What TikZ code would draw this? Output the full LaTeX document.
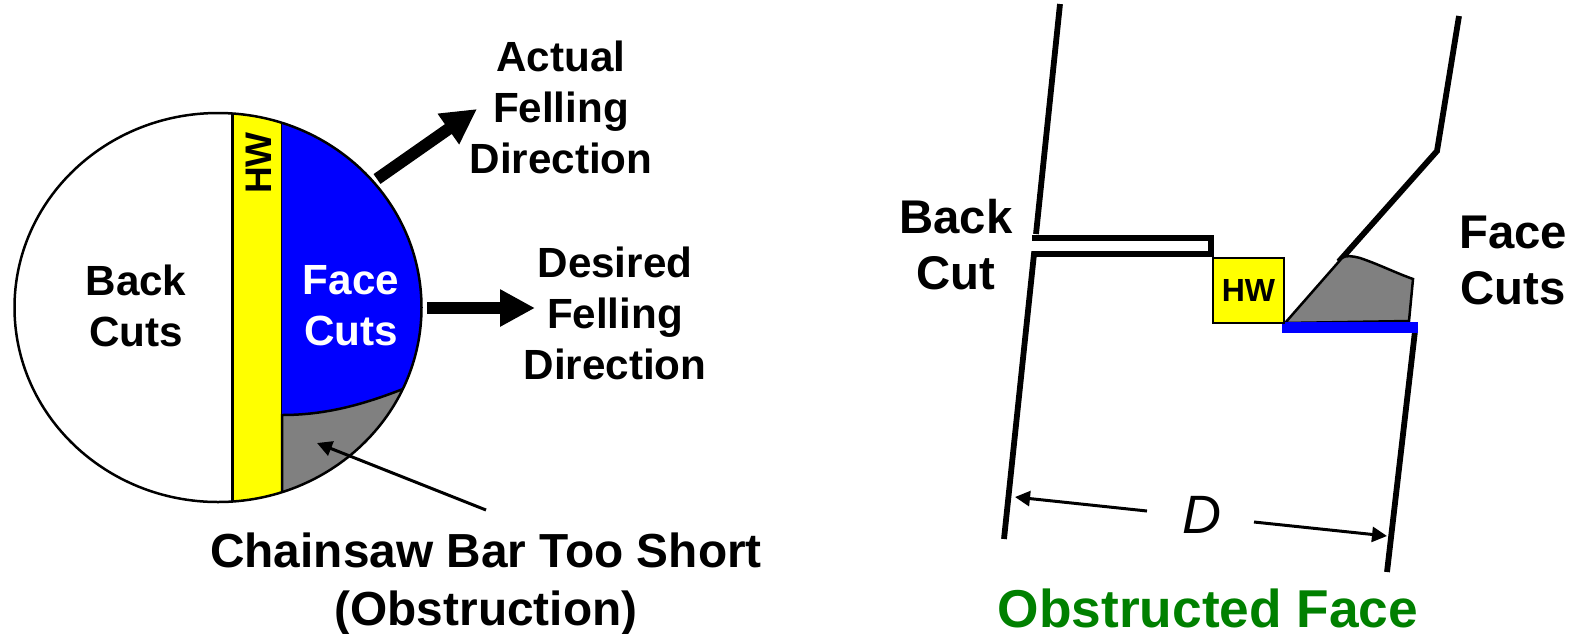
\documentclass[tikz,border=0pt]{standalone}
\usepackage{fontspec}
\setmainfont{Liberation Sans}
\usepackage{xcolor}
\usetikzlibrary{arrows.meta,positioning}
\definecolor{hwyellow}{HTML}{FFFF00}
\definecolor{faceblue}{HTML}{0000FF}
\definecolor{obsgray}{HTML}{808080}
\definecolor{titlegreen}{HTML}{008000}
\begin{document}
\begin{tikzpicture}[
 x=1pt,y=-1pt,
 lbl/.style={inner sep=0pt,align=center,font=\fontsize{42.2}{51}\bfseries\selectfont},
 biglbl/.style={inner sep=0pt,align=center,font=\fontsize{47.3}{56.5}\bfseries\selectfont},
 shortlbl/.style={inner sep=0pt,align=center,font=\fontsize{47.8}{58}\bfseries\selectfont},
 bigarr/.style={-{Triangle[length=35pt,width=35pt]},line width=12pt},
 thinarr/.style={-{Triangle[length=15pt,width=15pt]},line width=3pt},
 outline/.style={draw=black,line width=2.5pt},
 trunk/.style={line width=5.8pt,line cap=butt}
]
\useasboundingbox (0,0) rectangle (1579,633);
% stump seen from above
\coordinate (stump) at (218,307.5);
\begin{scope}
\clip (stump) ellipse [x radius=203.5pt,y radius=194.5pt];
\fill[white] (0,100) rectangle (232,520);
\filldraw[fill=hwyellow,outline] (232.5,100) rectangle (282,520);
\fill[faceblue] (282,100) rectangle (430,520);
\filldraw[fill=obsgray,outline] (282,415) .. controls (325,415) and (362,405) .. (403,389) -- (440,389) -- (440,520) -- (282,520) -- cycle;
\end{scope}
\draw[outline] (stump) ellipse [x radius=203.5pt,y radius=194.5pt];
\node[lbl] (backcuts) at (136,306) {Back\\Cuts};
\node[lbl,text=white] (facecuts) at (351,306) {Face\\Cuts};
\node[inner sep=0pt,rotate=90,font=\fontsize{37}{40}\bfseries\selectfont] (hwtop) at (258.5,163) {HW};
\node[lbl] (actual) at (561,107.5) {Actual\\Felling\\Direction};
\node[lbl] (desired) at (615,313) {Desired\\Felling\\Direction};
\node[shortlbl] (short) at (486,584) {Chainsaw Bar Too Short\\(Obstruction)};
\coordinate (actualtail) at (377,179);
\coordinate (actualtip) at (477,109);
\coordinate (desiredtail) at (427,308);
\coordinate (desiredtip) at (535,308);
\coordinate (shorttail) at (486,510);
\coordinate (shorttip) at (317,443);
\draw[bigarr] (actualtail)--(actualtip);
\draw[bigarr] (desiredtail)--(desiredtip);
\draw[thinarr] (shorttail)--(shorttip);
% side view of the cuts
\coordinate (lefttop) at (1060,4);
\coordinate (leftcut) at (1036,234);
\coordinate (cuta) at (1032,238);
\coordinate (cutb) at (1211,238);
\coordinate (cutc) at (1211,254);
\coordinate (cutd) at (1034,254);
\coordinate (leftbot) at (1004,539);
\coordinate (righttop) at (1459,16);
\coordinate (rightknee) at (1437,151);
\coordinate (facemid) at (1342,258);
\coordinate (facein) at (1285,323);
\coordinate (rightcut) at (1415,331);
\coordinate (rightbot) at (1387,572);
\draw[trunk] (lefttop)--(leftcut);
\draw[trunk] (cuta)--(cutb)--(cutc)--(cutd)--(leftbot);
\draw[trunk,shorten >=-5pt] (righttop)--(rightknee)--(facemid);
\draw[trunk] (rightcut)--(rightbot);
\filldraw[fill=obsgray,outline] (facein)--(facemid) .. controls (1346,255) and (1352,256) .. (1360,258) .. controls (1378,264) and (1396,273) .. (1413,279)--(1409,321)--cycle;
\fill[faceblue] (1282,322) rectangle (1418,333);
\node[draw=black,line width=2pt,fill=hwyellow,minimum width=71pt,minimum height=65pt,inner sep=0pt,font=\fontsize{32}{36}\bfseries\selectfont] (hwbox) at (1248.5,290) {HW};
\node[biglbl] (backcut) at (956,244.5) {Back\\Cut};
\node[biglbl] (facecut) at (1513,260.5) {Face\\Cuts};
\node[inner sep=0pt,font=\fontsize{54}{60}\itshape\selectfont] (dist) at (1202,515) {D};
\coordinate (dlefttail) at (1147,511);
\coordinate (dlefttip) at (1015,497);
\coordinate (drighttail) at (1254,522);
\coordinate (drighttip) at (1387,536);
\draw[thinarr] (dlefttail)--(dlefttip);
\draw[thinarr] (drighttail)--(drighttip);
\node[inner sep=0pt,text=titlegreen,font=\fontsize{53.3}{60}\bfseries\selectfont] (title) at (1208,608) {Obstructed Face};
\end{tikzpicture}
\end{document}
